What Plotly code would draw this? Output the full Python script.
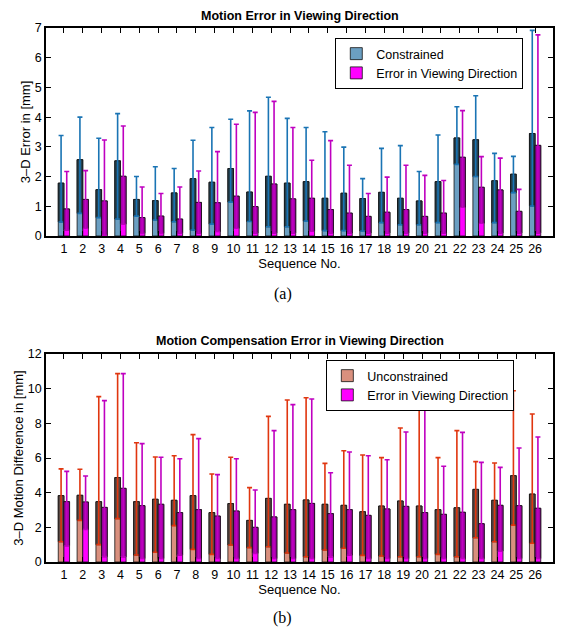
import plotly.graph_objects as go
import numpy as np

seq = list(range(1, 27))

# Top chart: Constrained
con_mean = [1.78, 2.57, 1.56, 2.53, 1.23, 1.19, 1.45, 1.93, 1.81, 2.27, 1.48, 2.01, 1.78,
            1.83, 1.27, 1.44, 1.26, 1.47, 1.27, 1.18, 1.83, 3.30, 3.24, 1.86, 2.08, 3.45]
con_upper = [3.38, 4.00, 3.29, 4.12, 2.00, 2.33, 2.27, 3.22, 3.65, 3.93, 4.21, 4.67, 3.96,
             3.65, 3.51, 2.99, 1.93, 2.95, 3.04, 2.17, 3.40, 4.35, 4.72, 2.78, 2.68, 6.92]
con_lower = [0.47, 0.76, 0.62, 0.57, 0.67, 0.54, 0.48, 0.20, 0.40, 1.14, 0.49, 0.31, 0.31,
             0.50, 0.18, 0.18, 0.17, 0.45, 0.38, 0.38, 0.45, 2.41, 2.00, 0.45, 1.46, 1.01]
# Top chart: Error in Viewing Direction
vd1_mean = [0.91, 1.23, 1.18, 2.01, 0.62, 0.67, 0.57, 1.13, 1.12, 1.34, 0.99, 1.75, 1.25,
            1.27, 0.89, 0.77, 0.66, 0.80, 0.89, 0.66, 0.77, 2.65, 1.64, 1.55, 0.83, 3.05]
vd1_upper = [2.17, 2.20, 3.23, 3.70, 1.65, 1.43, 1.65, 2.19, 2.84, 3.76, 4.16, 4.53, 3.65,
             2.55, 3.21, 2.38, 1.43, 1.98, 2.38, 2.04, 1.87, 4.22, 2.67, 2.62, 1.57, 6.77]
vd1_lower = [0.20, 0.26, 0.02, 0.40, 0.09, 0.09, 0.10, 0.10, 0.15, 0.26, 0.10, 0.10, 0.10,
             0.17, 0.10, 0.10, 0.10, 0.10, 0.10, 0.10, 0.10, 0.97, 0.43, 0.10, 0.10, 0.10]

# Bottom chart: Unconstrained
unc_mean = [3.83, 3.85, 3.48, 4.87, 3.48, 3.62, 3.56, 3.83, 2.85, 3.37, 2.40, 3.67, 3.33,
            3.58, 3.33, 3.27, 2.90, 3.23, 3.52, 3.23, 3.02, 3.13, 4.19, 3.56, 4.98, 3.92]
unc_upper = [5.37, 5.35, 9.54, 10.87, 6.88, 6.06, 6.13, 7.35, 5.08, 6.04, 4.29, 8.40, 9.35,
             9.48, 5.69, 6.42, 6.17, 6.02, 7.73, 9.15, 6.02, 7.58, 5.79, 5.71, 9.88, 8.54]
unc_lower = [1.17, 2.40, 1.00, 2.50, 0.40, 0.56, 2.10, 0.73, 0.44, 0.98, 0.83, 0.88, 0.52,
             0.30, 0.69, 0.79, 0.38, 0.35, 0.30, 0.30, 0.44, 0.30, 1.40, 1.17, 2.13, 1.08]
# Bottom chart: Error in Viewing Direction
vd2_mean = [3.48, 3.46, 3.15, 4.25, 3.25, 3.33, 2.85, 3.02, 2.65, 2.94, 2.00, 2.60, 3.02,
            3.38, 2.79, 3.02, 2.69, 3.06, 3.21, 2.85, 2.75, 2.87, 2.21, 3.27, 3.25, 3.10]
vd2_upper = [5.23, 4.96, 9.31, 10.87, 6.83, 6.04, 5.96, 7.12, 5.04, 5.96, 4.15, 7.58, 9.08,
             9.40, 5.15, 6.35, 6.13, 5.90, 7.50, 9.00, 5.52, 7.48, 5.75, 5.46, 6.58, 7.21]
vd2_lower = [0.94, 1.88, 0.31, 0.30, 0.20, 0.20, 0.40, 0.20, 0.20, 0.20, 0.50, 0.20, 0.20,
             0.20, 0.30, 0.40, 0.20, 0.20, 0.20, 0.20, 0.20, 0.20, 0.20, 0.63, 0.20, 0.20]

FONT = "Liberation Sans, Arial, sans-serif"
SERIF = "Liberation Serif, Times New Roman, serif"
BW = 0.3

fig = go.Figure()


def add_pair(mean, upper, lower, light, dark, ebar, name, offset, xa, ya, legend):
    mean = np.array(mean); upper = np.array(upper); lower = np.array(lower)
    fig.add_trace(go.Bar(x=seq, y=mean, width=BW, offset=offset, name=name,
                         marker=dict(color=light, line=dict(color="#111111", width=0.8)),
                         xaxis=xa, yaxis=ya, legend=legend, showlegend=True))
    fig.add_trace(go.Bar(x=seq, y=mean - lower, base=lower, width=BW, offset=offset,
                         marker=dict(color=dark, line=dict(color="#111111", width=0.8)),
                         error_y=dict(type="data", symmetric=False, array=upper - mean,
                                      arrayminus=mean - lower, color=ebar, thickness=1.6, width=2.5),
                         xaxis=xa, yaxis=ya, showlegend=False, hoverinfo="skip"))


add_pair(con_mean, con_upper, con_lower, "#6b9fc2", "#24404f", "#1a74b4", "Constrained", -0.3, "x", "y", "legend")
add_pair(vd1_mean, vd1_upper, vd1_lower, "#ff00ff", "#a300a8", "#bf00c0", "Error in Viewing Direction", 0.0, "x", "y", "legend")
add_pair(unc_mean, unc_upper, unc_lower, "#d9907e", "#5a4843", "#e0360f", "Unconstrained", -0.3, "x2", "y2", "legend2")
add_pair(vd2_mean, vd2_upper, vd2_lower, "#ff00ff", "#a300a8", "#bf00c0", "Error in Viewing Direction", 0.0, "x2", "y2", "legend2")

axis_common = dict(showline=True, linecolor="black", linewidth=1.5, mirror="ticks",
                   ticks="inside", ticklen=5, tickcolor="black", showgrid=False, zeroline=False,
                   tickfont=dict(family=FONT, size=12.5, color="black"))

# page has an 8px body margin; figure is sized to fit inside the window
W, HT = 557, 624
ML, MT, MR, MB = 37, 20, 10, 70
H = HT - MT - MB


def ypix(p):
    # page pixel -> paper coordinate
    return 1 - ((p - 8) - MT) / H


def xpix(p):
    return ((p - 8) - ML) / (W - ML - MR)


fig.update_layout(
    width=W, height=HT,
    margin=dict(l=ML, r=MR, t=MT, b=MB),
    paper_bgcolor="white", plot_bgcolor="white",
    barmode="overlay",
    font=dict(family=FONT, color="black"),
    xaxis=dict(domain=[0, 1], anchor="y", range=[0.05, 26.95], tickvals=seq,
               title=dict(text="Sequence No.", font=dict(size=13), standoff=2), **axis_common),
    yaxis=dict(domain=[ypix(236), 1], anchor="x", range=[0, 7], dtick=1,
               title=dict(text="3\u2013D Error in [mm]", font=dict(size=13), standoff=1), **axis_common),
    xaxis2=dict(domain=[0, 1], anchor="y2", range=[0.05, 26.95], tickvals=seq,
                title=dict(text="Sequence No.", font=dict(size=13), standoff=2), **axis_common),
    yaxis2=dict(domain=[0, ypix(354)], anchor="x2", range=[0, 12], dtick=2,
                title=dict(text="3\u2013D Motion Difference in [mm]", font=dict(size=13), standoff=1), **axis_common),
    legend=dict(x=xpix(336), y=ypix(38), xanchor="left", yanchor="top", bgcolor="white",
                bordercolor="black", borderwidth=1, font=dict(size=12.5),
                tracegroupgap=0, itemwidth=30),
    legend2=dict(x=xpix(327), y=ypix(360), xanchor="left", yanchor="top", bgcolor="white",
                 bordercolor="black", borderwidth=1, font=dict(size=12.5),
                 tracegroupgap=0, itemwidth=30),
)

fig.add_annotation(text="<b>Motion Error in Viewing Direction</b>", x=xpix(300), y=ypix(16), xref="paper",
                   yref="paper", showarrow=False, font=dict(size=12.5, family=FONT), yanchor="middle")
fig.add_annotation(text="<b>Motion Compensation Error in Viewing Direction</b>", x=xpix(300), y=ypix(341),
                   xref="paper", yref="paper", showarrow=False, font=dict(size=12.5, family=FONT),
                   yanchor="middle")
fig.add_annotation(text="(a)", x=xpix(283), y=ypix(294), xref="paper", yref="paper", showarrow=False,
                   font=dict(size=16, family=SERIF), yanchor="middle")
fig.add_annotation(text="(b)", x=xpix(283), y=ypix(618), xref="paper", yref="paper", showarrow=False,
                   font=dict(size=16, family=SERIF), yanchor="middle")

fig.write_html("out.html")
